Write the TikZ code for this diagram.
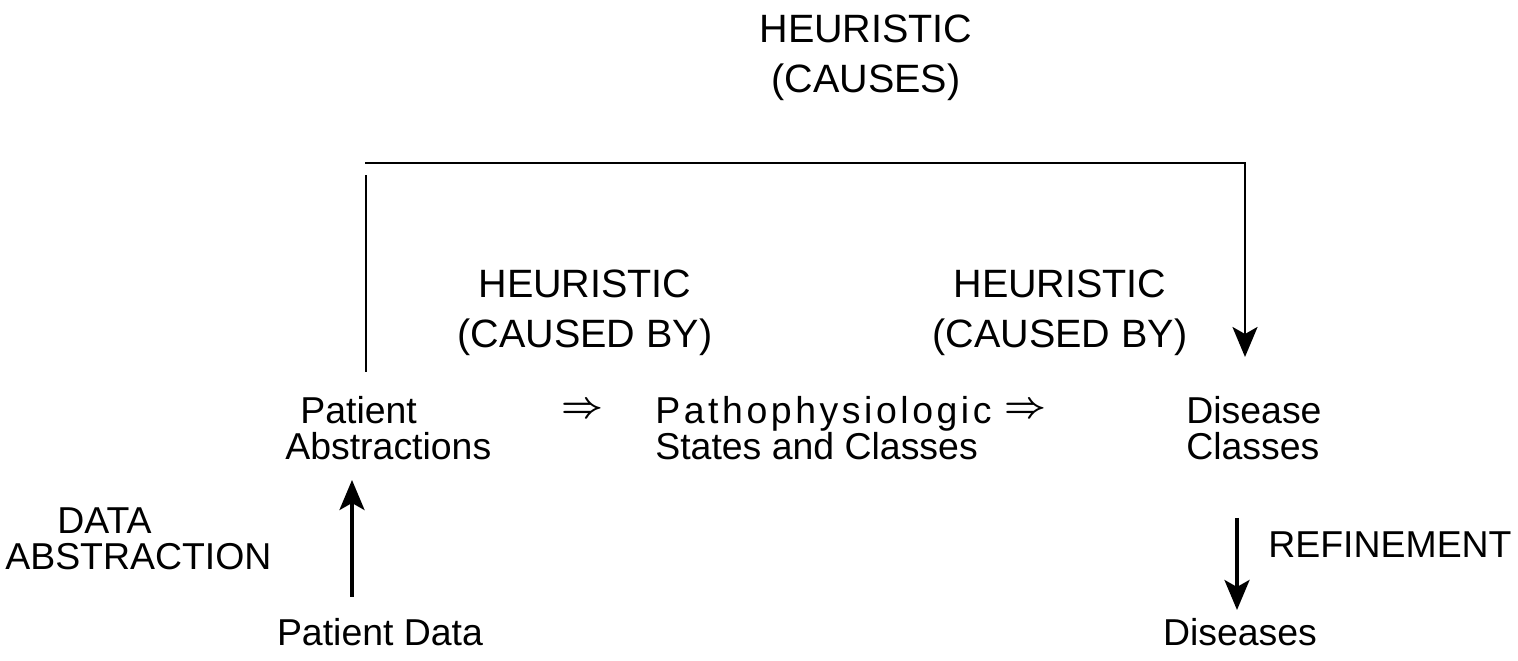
\documentclass[tikz,border=0pt]{standalone}
\usepackage{fontspec}
\setmainfont{Liberation Sans}
\newfontfamily\pathfont{Liberation Sans}[LetterSpace=9.5]
\usetikzlibrary{arrows.meta}
\begin{document}
\begin{tikzpicture}[x=0.02cm,y=-0.02cm,
  lbl/.style={inner sep=0pt, font=\fontsize{22.5}{28.5}\selectfont},
  lbl2/.style={inner sep=0pt, font=\fontsize{21.3}{20.5}\selectfont},
  imp/.style={inner sep=0pt, font=\fontsize{20}{20}\selectfont\boldmath},
  thin ln/.style={line width=1.6pt},
  ln/.style={line width=2pt},
  arr/.style={-{Stealth[length=0.6cm,width=0.5cm,inset=0.14cm]}}]
\useasboundingbox (0,0) rectangle (1518,661);

% labels
\node[lbl,align=center] (hc) at (866,58) {HEURISTIC\\(CAUSES)};
\node[lbl,align=center] (hl) at (585,313) {HEURISTIC\\(CAUSED BY)};
\node[lbl,align=center] (hr) at (1060,313) {HEURISTIC\\(CAUSED BY)};

% nodes
\node[lbl2,align=left,anchor=west] (pa) at (285,428) {\hspace*{0.3cm}Patient\\Abstractions};
\node[imp] (i1) at (582,410) {$\Rightarrow$};
\node[lbl2,align=left,anchor=west] (ps) at (655,428) {{\pathfont Pathophysiologic}\\States and Classes};
\node[imp] (i2) at (1025,410) {$\Rightarrow$};
\node[lbl2,align=left,anchor=west] (dc) at (1186,428) {Disease\\Classes};
\node[lbl2,align=left,anchor=west] (da) at (5,539) {\hspace*{1.04cm}DATA\\ABSTRACTION};
\node[lbl2,anchor=west] (rf) at (1268,545) {REFINEMENT};
\node[lbl2] (pd) at (380,632) {Patient Data};
\node[lbl2] (ds) at (1240,632) {Diseases};

% connector coordinates
\coordinate (lvb) at (366,372);
\coordinate (lvt) at (366,175);
\coordinate (hla) at (365,163);
\coordinate (hra) at (1245,163);
\coordinate (dctip) at (1245,357);
\coordinate (pdtop) at (352,597);
\coordinate (patip) at (352,480);
\coordinate (dcbot) at (1237,518);
\coordinate (dstip) at (1237,610);

\draw[thin ln] (lvb) -- (lvt);
\draw[thin ln,arr] (hla) -- (hra) -- (dctip);
\draw[ln,arr] (pdtop) -- (patip);
\draw[ln,arr] (dcbot) -- (dstip);
\end{tikzpicture}
\end{document}
